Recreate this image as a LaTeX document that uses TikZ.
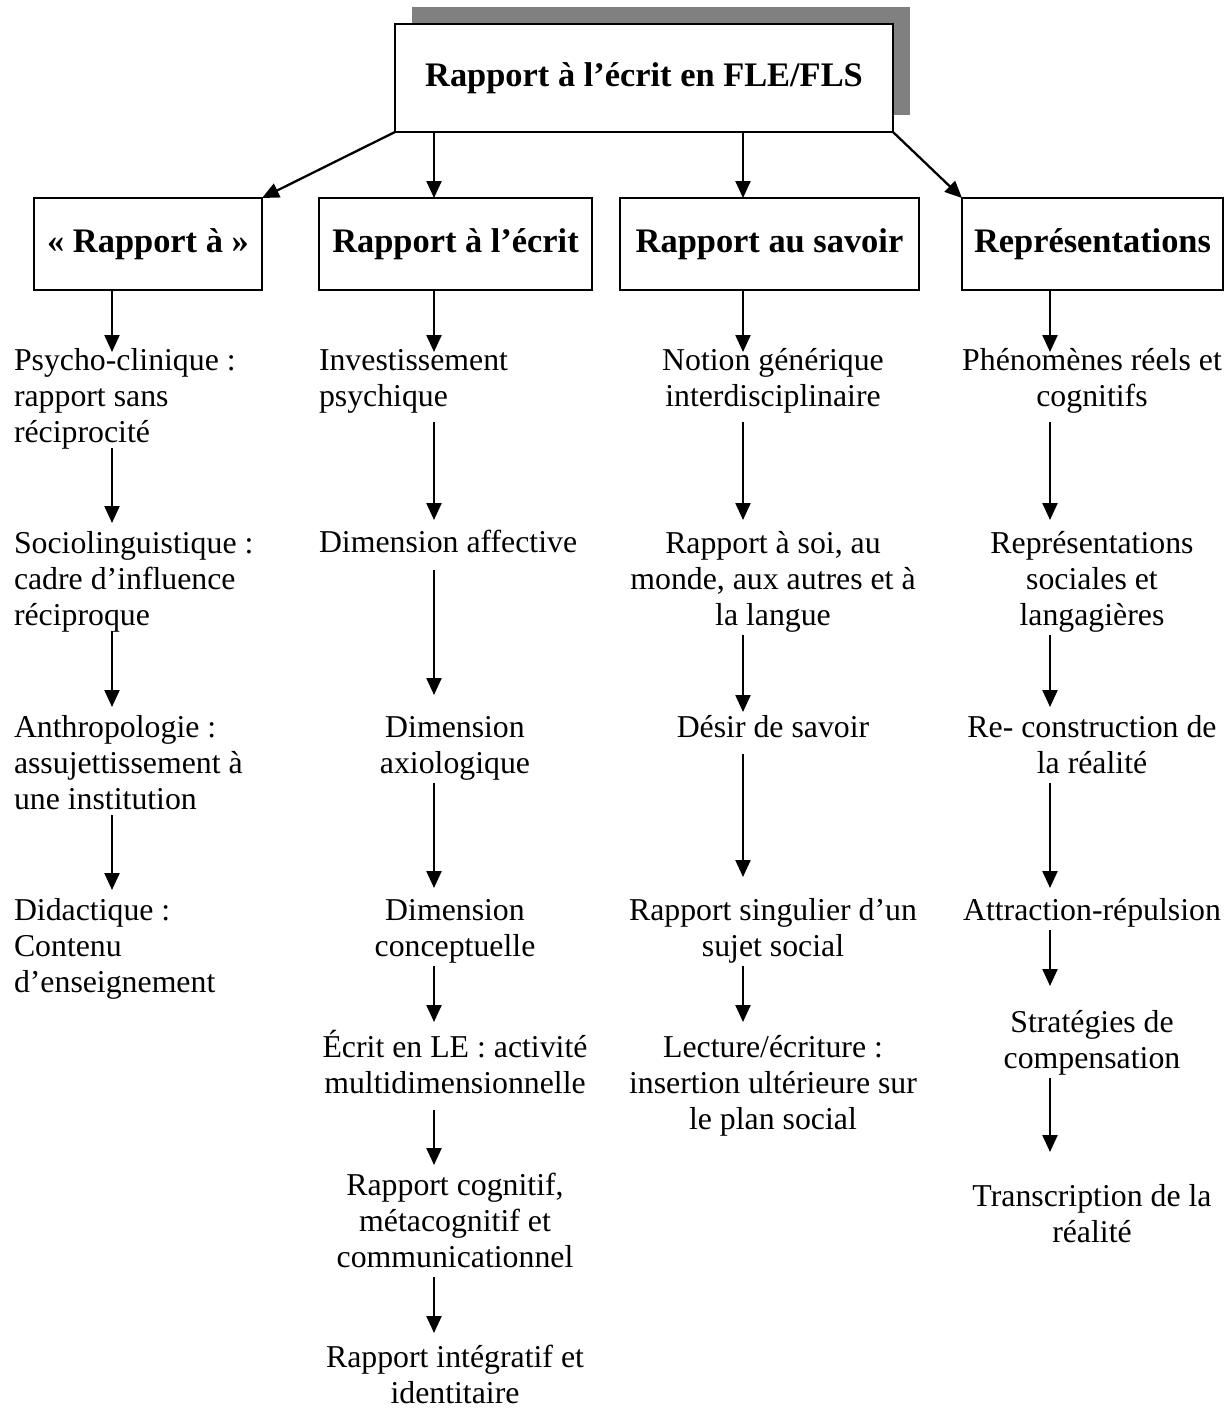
\documentclass[tikz,border=0pt]{standalone}
\usepackage{fontspec}
\setmainfont{Liberation Serif}
\usetikzlibrary{arrows.meta,backgrounds}
\definecolor{shadowgray}{HTML}{808080}
\newcommand\fs{\rule{0pt}{30pt}}
\newcommand\fe{\rule[-10pt]{0pt}{10pt}}
\begin{document}
\begin{tikzpicture}[x=1pt,y=-1pt,
  every node/.style={inner sep=0pt, outer sep=0pt},
  body/.style={font=\fontsize{31.8}{36}\selectfont},
  lefttxt/.style={body, anchor=north west, align=left},
  ctxt/.style={body, anchor=north, align=center},
  headbox/.style={draw, line width=2pt, font=\fontsize{34.4}{40}\selectfont\bfseries, minimum height=92pt},
  arr/.style={line width=2.3pt, -{Triangle[length=17pt,width=15pt]}},
]
\useasboundingbox (0,0) rectangle (1226,1409);

% title
\node[headbox, fill=white, minimum width=498pt, minimum height=108pt] (top) at (644,78) {Rapport à l’écrit en FLE/FLS};
\begin{scope}[on background layer]
\fill[shadowgray] ([shift={(17,-17)}]top.south west) rectangle ([shift={(17,-17)}]top.north east);
\end{scope}

% level 2 boxes
\node[headbox, minimum width=228pt] (b1) at (148,244) {« Rapport à »};
\node[headbox, minimum width=273pt] (b2) at (455.5,244) {Rapport à l’écrit};
\node[headbox, minimum width=299pt] (b3) at (769.5,244) {Rapport au savoir};
\node[headbox, minimum width=261pt] (b4) at (1092.5,244) {Représentations};

% column axes
\coordinate (c1) at (112,0);
\coordinate (c2) at (434,0);
\coordinate (c3) at (743,0);
\coordinate (c4) at (1050,0);

\draw[arr] (top.south west) -- (b1.north east);
\draw[arr] (top.south -| c2) -- (b2.north -| c2);
\draw[arr] (top.south -| c3) -- (b3.north -| c3);
\draw[arr] (top.south east) -- (b4.north west);

% column 1
\node[lefttxt] (t11) at (14,340) {\fs Psycho-clinique :\\rapport sans\\réciprocité\fe};
\node[lefttxt] (t12) at (14,523) {\fs Sociolinguistique :\\cadre d’influence\\réciproque\fe};
\node[lefttxt] (t13) at (14,707) {\fs Anthropologie :\\assujettissement à\\une institution\fe};
\node[lefttxt] (t14) at (14,890) {\fs Didactique :\\Contenu\\d’enseignement\fe};

% column 2
\node[lefttxt] (t21) at (319,340) {\fs Investissement\\psychique\fe};
\node[lefttxt] (t22) at (319,522) {\fs Dimension affective\fe};
\node[ctxt] (t23) at (455,707) {\fs Dimension\\axiologique\fe};
\node[ctxt] (t24) at (455,890) {\fs Dimension\\conceptuelle\fe};
\node[ctxt] (t25) at (455,1027) {\fs Écrit en LE : activité\\multidimensionnelle\fe};
\node[ctxt] (t26) at (455,1165) {\fs Rapport cognitif,\\métacognitif et\\communicationnel\fe};
\node[ctxt] (t27) at (455,1337) {\fs Rapport intégratif et\\identitaire\fe};

% column 3
\node[ctxt] (t31) at (773,340) {\fs Notion générique\\interdisciplinaire\fe};
\node[ctxt] (t32) at (773,523) {\fs Rapport à soi, au\\monde, aux autres et à\\la langue\fe};
\node[ctxt] (t33) at (773,707) {\fs Désir de savoir\fe};
\node[ctxt] (t34) at (773,890) {\fs Rapport singulier d’un\\sujet social\fe};
\node[ctxt] (t35) at (773,1027) {\fs Lecture/écriture :\\insertion ultérieure sur\\le plan social\fe};

% column 4
\node[ctxt] (t41) at (1092,340) {\fs Phénomènes réels et\\cognitifs\fe};
\node[ctxt] (t42) at (1092,523) {\fs Représentations\\sociales et\\langagières\fe};
\node[ctxt] (t43) at (1092,707) {\fs Re- construction de\\la réalité\fe};
\node[ctxt] (t44) at (1092,890) {\fs Attraction-répulsion\fe};
\node[ctxt] (t45) at (1092,1002) {\fs Stratégies de\\compensation\fe};
\node[ctxt] (t46) at (1092,1176) {\fs Transcription de la\\réalité\fe};

% arrows column 1
\draw[arr, shorten >=-12pt] (b1.south -| c1) -- (t11.north -| c1);
\draw[arr, shorten <=-4pt] (t11.south -| c1) -- (t12.north -| c1);
\draw[arr, shorten <=-4pt] (t12.south -| c1) -- (t13.north -| c1);
\draw[arr, shorten <=-4pt] (t13.south -| c1) -- (t14.north -| c1);

% arrows column 2
\draw[arr, shorten >=-12pt] (b2.south -| c2) -- (t21.north -| c2);
\draw[arr, shorten <=6pt, shorten >=2pt] (t21.south -| c2) -- (t22.north -| c2);
\draw[arr, shorten <=8pt, shorten >=12pt] (t22.south -| c2) -- (t23.north -| c2);
\draw[arr, shorten >=2pt] (t23.south -| c2) -- (t24.north -| c2);
\draw[arr, shorten >=5pt] (t24.south -| c2) -- (t25.north -| c2);
\draw[arr, shorten <=7pt] (t25.south -| c2) -- (t26.north -| c2);
\draw[arr, shorten >=4pt] (t26.south -| c2) -- (t27.north -| c2);

% arrows column 3
\draw[arr, shorten >=-12pt] (b3.south -| c3) -- (t31.north -| c3);
\draw[arr, shorten <=6pt, shorten >=3pt] (t31.south -| c3) -- (t32.north -| c3);
\draw[arr, shorten >=-5pt] (t32.south -| c3) -- (t33.north -| c3);
\draw[arr, shorten <=7pt, shorten >=13pt] (t33.south -| c3) -- (t34.north -| c3);
\draw[arr, shorten >=5pt] (t34.south -| c3) -- (t35.north -| c3);

% arrows column 4
\draw[arr, shorten >=-12pt] (b4.south -| c4) -- (t41.north -| c4);
\draw[arr, shorten <=6pt, shorten >=3pt] (t41.south -| c4) -- (t42.north -| c4);
\draw[arr] (t42.south -| c4) -- (t43.north -| c4);
\draw[arr, shorten >=2pt] (t43.south -| c4) -- (t44.north -| c4);
\draw[arr, shorten >=16pt] (t44.south -| c4) -- (t45.north -| c4);
\draw[arr, shorten >=24pt] (t45.south -| c4) -- (t46.north -| c4);
\end{tikzpicture}
\end{document}
